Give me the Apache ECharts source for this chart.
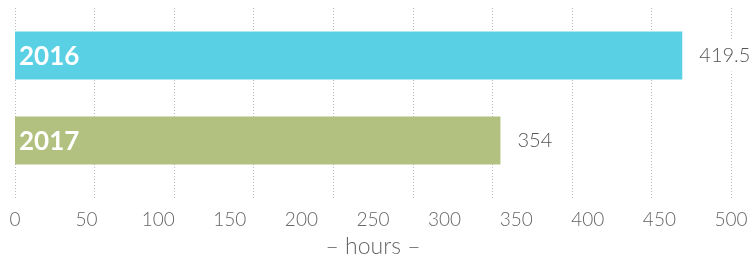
<!DOCTYPE html>
<html><head><meta charset="utf-8">
<script src="https://cdn.jsdelivr.net/npm/echarts@6/dist/echarts.min.js"></script>
<style>html,body{margin:0;padding:0;background:#fff}#c{width:750px;height:257px}</style>
</head><body><div id="c"></div>
<script>
// Category names (years)
const years = ['2016', '2017'];
// Bar lengths as drawn against the hours axis
const barHours = [466, 339];
// Value labels printed beside the bars
const valueLabels = ['419.5', '354'];
// Bar colours per category
const barColors = ['#5AD0E4', '#B2C180'];
// Axis tick labels (hours)
const hourTicks = [0, 50, 100, 150, 200, 250, 300, 350, 400, 450, 500];
const axisTitle = '\u2013 hours \u2013';

const chart = echarts.init(document.getElementById('c'), null, {renderer: 'canvas'});
const font = 'Lato';
chart.setOption({
  animation: false,
  grid: [
    {left: 15, right: 19, top: 8, bottom: 57, containLabel: false, outerBoundsMode: 'none'},
    {left: 15, right: 19, top: 13, height: 170, containLabel: false, outerBoundsMode: 'none'}
  ],
  xAxis: [
    {gridIndex: 0, type: 'value', min: 0, max: 9, interval: 1,
     axisLine: {show: false}, axisTick: {show: false}, axisLabel: {show: false},
     splitLine: {show: true, lineStyle: {color: '#bbbbbb', type: [1, 2], width: 1}}},
    {gridIndex: 0, type: 'value', min: hourTicks[0], max: hourTicks[hourTicks.length - 1], interval: 50,
     position: 'bottom',
     axisLine: {show: false, onZero: false}, axisTick: {show: false}, splitLine: {show: false},
     axisLabel: {margin: 10, color: '#666', fontFamily: font, fontWeight: 300, fontSize: 19},
     name: axisTitle, nameLocation: 'middle', nameGap: 35,
     nameTextStyle: {color: '#666', fontFamily: font, fontWeight: 300, fontSize: 23}},
    {gridIndex: 1, type: 'value', min: hourTicks[0], max: hourTicks[hourTicks.length - 1], show: false}
  ],
  yAxis: [
    {gridIndex: 0, type: 'category', data: years, show: false},
    {gridIndex: 1, type: 'category', data: years, inverse: true, show: false}
  ],
  series: [
    {type: 'bar', xAxisIndex: 2, yAxisIndex: 1, barWidth: 48, barGap: '-100%',
     data: barHours.map((v, i) => ({value: v, itemStyle: {color: barColors[i]}})),
     label: {show: true, position: 'insideLeft', offset: [-1, 1], formatter: p => years[p.dataIndex],
       color: '#fff', fontFamily: font, fontWeight: 'bold', fontSize: 26}},
    {type: 'bar', xAxisIndex: 2, yAxisIndex: 1, barWidth: 48, barGap: '-100%',
     data: barHours.map(v => ({value: v, itemStyle: {color: 'rgba(0,0,0,0)'}})),
     label: {show: true, position: 'right', distance: 14, formatter: p => valueLabels[p.dataIndex],
       color: '#555', fontFamily: font, fontWeight: 300, fontSize: 20,
       backgroundColor: '#fff', padding: [6, 3, 6, 3]}}
  ]
});
</script></body></html>
